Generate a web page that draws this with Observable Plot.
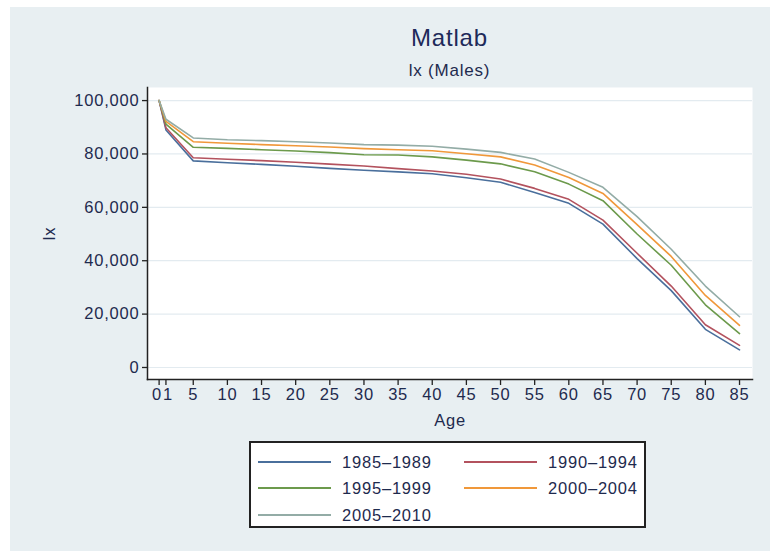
<!DOCTYPE html>
<html>
<head>
<meta charset="utf-8">
<script src="https://cdn.jsdelivr.net/npm/d3@7"></script>
<script src="https://cdn.jsdelivr.net/npm/@observablehq/plot@0.6"></script>
<style>
  html, body { margin: 0; padding: 0; background: #ffffff; }
  #page { position: relative; width: 770px; height: 554px; overflow: hidden; background: #ffffff;
          font-family: "Liberation Sans", Arial, Helvetica, sans-serif; color: #1e2a4e; }
  #bg { position: absolute; left: 10px; top: 7px; right: 0; bottom: 3px; background: #e8eff2; }
  #title { position: absolute; left: 147px; width: 605px; top: 24px; text-align: center; font-size: 24px; letter-spacing: 0.8px; color: #1e2a5a; }
  #subtitle { position: absolute; left: 147px; width: 605px; top: 61px; text-align: center; font-size: 17px; letter-spacing: 0.8px; color: #1e2a4e; }
  #chart { position: absolute; left: 0; top: 0; }
  #legend { position: absolute; left: 249px; top: 441px; width: 397px; height: 87px; background: #ffffff;
            border: 2px solid #222; box-sizing: border-box; }
  .item { position: absolute; display: flex; align-items: center; font-size: 16.5px; letter-spacing: 0.8px; color: #1e2a4e; }
  .item svg { margin-right: 11px; }
</style>
</head>
<body>
<div id="page">
  <div id="bg"></div>
  <div id="title">Matlab</div>
  <div id="subtitle">lx (Males)</div>
  <div id="chart"></div>
  <div id="legend"></div>
</div>
<script>
const ages = [0, 1, 5, 10, 15, 20, 25, 30, 35, 40, 45, 50, 55, 60, 65, 70, 75, 80, 85];
const periods = ["1985–1989", "1990–1994", "1995–1999", "2000–2004", "2005–2010"];
const lx1985 = [100000, 89000, 77400, 76700, 76100, 75400, 74600, 73900, 73300, 72600, 71100, 69400, 65600, 61500, 53700, 40800, 28800, 14300, 6600];
const lx1990 = [100000, 89800, 78600, 78000, 77500, 76900, 76200, 75500, 74500, 73600, 72400, 70600, 67100, 63000, 55200, 42800, 30500, 16000, 8300];
const lx1995 = [100000, 91200, 82500, 82100, 81600, 81100, 80500, 79700, 79600, 78900, 77700, 76300, 73300, 68700, 62500, 50000, 38300, 23500, 12700];
const lx2000 = [100000, 92200, 84600, 84000, 83500, 83100, 82600, 82000, 81600, 81200, 80100, 78900, 75900, 71200, 65200, 53500, 41600, 27000, 15800];
const lx2005 = [100000, 93000, 86000, 85300, 85000, 84600, 84100, 83500, 83300, 82900, 81800, 80600, 78100, 73100, 67500, 56500, 44300, 30500, 19000];
const yTicks = [0, 20000, 40000, 60000, 80000, 100000];
const xTicks = [0, 1, 5, 10, 15, 20, 25, 30, 35, 40, 45, 50, 55, 60, 65, 70, 75, 80, 85];
const colors = ["#4a6f9c", "#b3525e", "#6c9a4c", "#f0983a", "#93aca6"];

const series = [lx1985, lx1990, lx1995, lx2000, lx2005];
const data = [];
series.forEach((vals, i) => vals.forEach((v, j) => data.push({period: periods[i], age: ages[j], lx: v})));

const textColor = "#1e2a4e";
const labelOnly = {tickFormat: d => String(d), tickSize: 0, tickPadding: 9, fill: textColor, label: null};
const plot = Plot.plot({
  width: 770,
  height: 440,
  marginLeft: 147,
  marginRight: 18,
  marginTop: 87,
  marginBottom: 61,
  style: {fontFamily: "'Liberation Sans', Arial, Helvetica, sans-serif", fontSize: "16.5px", background: "transparent", color: textColor, letterSpacing: "0.8px"},
  x: {domain: [-1.7, 86.9]},
  y: {domain: [-4500, 104900]},
  color: {domain: periods, range: colors},
  marks: [
    Plot.frame({fill: "white", stroke: "none"}),
    Plot.gridY(yTicks, {stroke: "#e3ebf0", strokeOpacity: 1, strokeWidth: 1.2}),
    Plot.line(data, {x: "age", y: "lx", z: "period", stroke: "period", strokeWidth: 1.6, curve: "linear"}),
    Plot.frame({anchor: "left", stroke: "#222", strokeWidth: 1.5}),
    Plot.frame({anchor: "bottom", stroke: "#222", strokeWidth: 1.5}),
    Plot.axisY({ticks: yTicks, tickFormat: d3.format(","), tickSize: 5, tickPadding: 3, stroke: "#222", strokeWidth: 1.3,
                label: "lx", labelAnchor: "center", labelArrow: "none", labelOffset: 104, fill: textColor}),
    Plot.axisX({ticks: xTicks, tickFormat: d => (d < 2 ? "" : String(d)), tickSize: 6, tickPadding: 3, stroke: "#222", strokeWidth: 1.3, fill: textColor,
                label: "Age", labelAnchor: "center", labelArrow: "none", labelOffset: 46}),
    Plot.axisX(xTicks.slice(0, 1), {...labelOnly, dx: -2}),
    Plot.axisX(xTicks.slice(1, 2), {...labelOnly, dx: 2})
  ]
});
document.getElementById("chart").appendChild(plot);

// legend
const legend = document.getElementById("legend");
const pos = [[7, 9], [213, 9], [7, 35], [213, 35], [7, 62]];
periods.forEach((p, i) => {
  const div = document.createElement("div");
  div.className = "item";
  div.style.left = pos[i][0] + "px";
  div.style.top = pos[i][1] + "px";
  div.innerHTML = `<svg width="73" height="20"><line x1="0" x2="73" y1="10" y2="10" stroke="${colors[i]}" stroke-width="2"/></svg><span>${p}</span>`;
  legend.appendChild(div);
});
</script>
</body>
</html>
